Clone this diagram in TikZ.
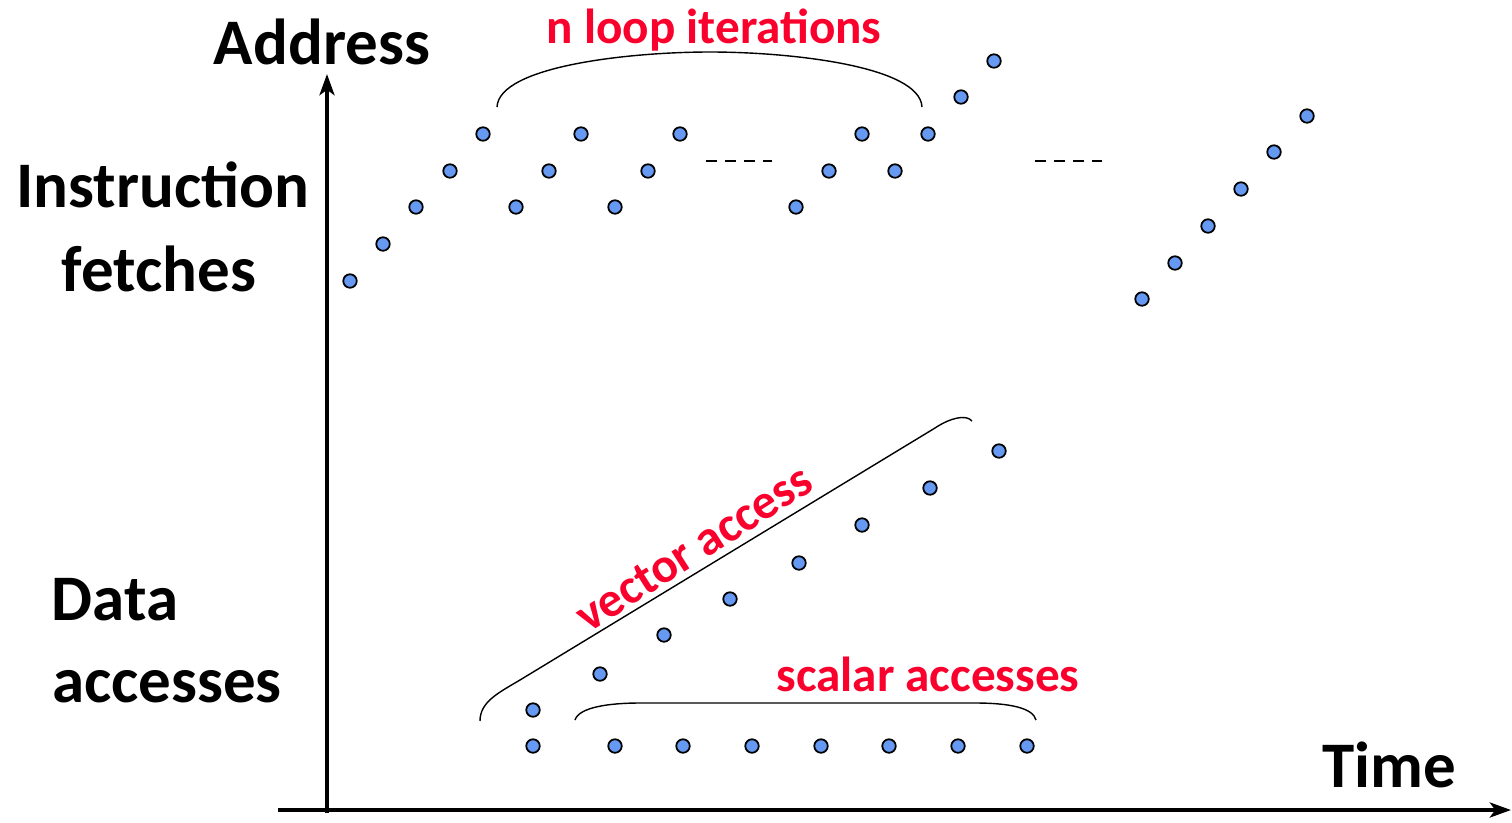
\documentclass[tikz,border=0pt]{standalone}
\usepackage{fontspec}
\setmainfont{Carlito}
\usetikzlibrary{arrows.meta}
\definecolor{dotblue}{RGB}{102,153,242}
\definecolor{labelred}{RGB}{250,0,45}

\begin{document}
\begin{tikzpicture}[x=0.02cm,y=-0.02cm,
  pt/.style={circle,draw=black,fill=dotblue,line width=1pt,minimum size=0.27cm,inner sep=0pt},
  axis/.style={line width=2.3pt,-{Stealth[length=12pt,width=8.5pt,inset=3pt]}},
  brace/.style={line width=0.8pt},
  gapline/.style={line width=1.2pt,dash pattern=on 6.2pt off 4.6pt},
  biglabel/.style={font=\fontsize{37}{44}\selectfont\bfseries,inner sep=0pt},
  redlabel/.style={font=\fontsize{28}{33}\selectfont\bfseries,text=labelred,inner sep=0pt}]

\useasboundingbox (0,0) rectangle (1512,822);

% axes
\coordinate (ybot) at (327,813);
\coordinate (ytop) at (327,74);
\coordinate (xleft) at (278,810);
\coordinate (xright) at (1511,810);
\draw[axis] (ybot) -- (ytop);
\draw[axis] (xleft) -- (xright);

% axis and region labels
\node[biglabel] (address) at (322,42) {Address};
\node[biglabel] (instr) at (163,185) {Instruction};
\node[biglabel] (fetch) at (159,269) {fetches};
\node[biglabel] (data) at (115,600) {Data};
\node[biglabel] (acc) at (167,687) {accesses};
\node[biglabel] (time) at (1389,765) {Time};

% instruction fetch addresses
\foreach [count=\k] \x/\y in {350/281,383/244,416/207,450/171,483/134,
    516/207,549/171,581/134,615/207,648/171,680/134,
    796/207,829/171,862/134,895/171,928/134,961/97,994/61,
    1142/299,1175/263,1208/226,1241/189,1274/152,1307/116}
  \node[pt] (i\k) at (\x,\y) {};

% elided iterations
\coordinate (gapA1) at (706,161);
\coordinate (gapA2) at (772,161);
\coordinate (gapB1) at (1035,161);
\coordinate (gapB2) at (1102,161);
\draw[gapline] (gapA1) -- (gapA2);
\draw[gapline] (gapB1) -- (gapB2);

% loop brace
\coordinate (loopL) at (497,107);
\coordinate (loopM) at (710,52);
\coordinate (loopR) at (922,107);
\draw[brace] (loopL) .. controls (499,66) and (630,52) .. (loopM)
  .. controls (790,52) and (920,66) .. (loopR);
\node[redlabel] (looptxt) at (714,30) {n loop iterations};

% data accesses: vector stream
\foreach [count=\k] \x/\y in {533/710,600/674,664/635,730/599,799/563,862/525,930/488,999/451}
  \node[pt] (v\k) at (\x,\y) {};

% data accesses: scalar stream
\foreach [count=\k] \x/\y in {533/746,615/746,683/746,752/746,821/746,889/746,958/746,1027/746}
  \node[pt] (d\k) at (\x,\y) {};

% vector brace
\coordinate (vecL) at (480,721);
\coordinate (vecA) at (520,680);
\coordinate (vecB) at (935,428);
\coordinate (vecR) at (972,421);
\draw[brace] (vecL) .. controls (480,702) and (498,693) .. (vecA) -- (vecB)
  .. controls (950,418) and (966,414) .. (vecR);
\node[redlabel,rotate=32.5] (vectxt) at (694,548) {vector access};

% scalar brace
\coordinate (scaL) at (575,720);
\coordinate (scaA) at (640,703);
\coordinate (scaB) at (975,703);
\coordinate (scaR) at (1036,720);
\draw[brace] (scaL) .. controls (579,707) and (610,703) .. (scaA) -- (scaB)
  .. controls (1010,703) and (1033,708) .. (scaR);
\node[redlabel] (scatxt) at (928,674) {scalar accesses};

\end{tikzpicture}
\end{document}
